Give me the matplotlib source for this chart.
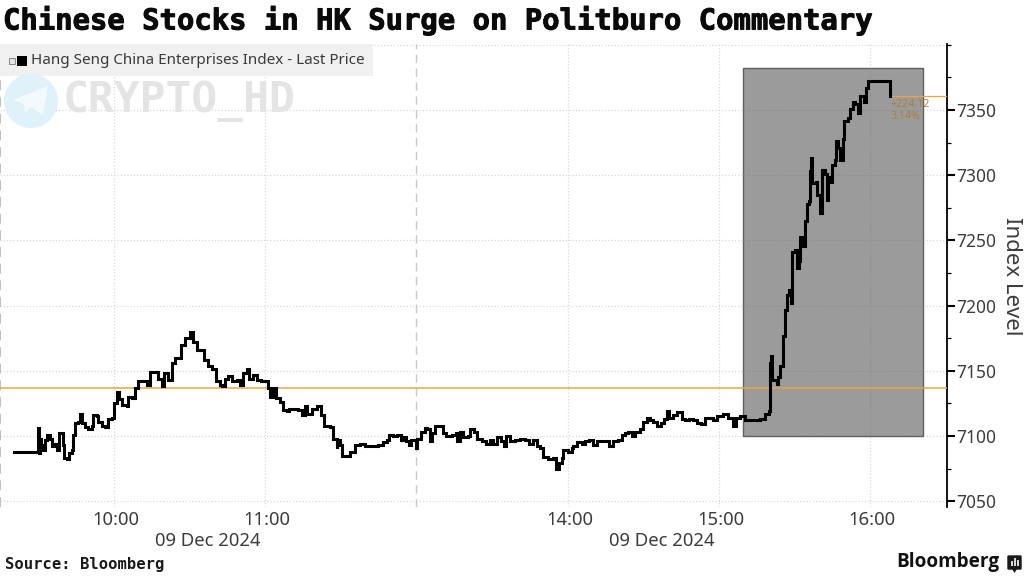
import matplotlib
matplotlib.use("Agg")
import matplotlib.pyplot as plt
import matplotlib.patches as patches
import matplotlib.patheffects as pe
from matplotlib.transforms import ScaledTranslation

# minutes after 09:00, lunch break (12:00-13:00) taken out of the clock
minutes = [
    20.5, 29.3, 29.7, 30.1, 30.5, 31.2, 32.0, 32.6, 33.5, 34.6, 35.3, 36.6, 37.2, 38.3, 39.2, 39.6,
    40.3, 41.2, 42.2, 43.2, 43.6, 44.5, 45.9, 46.5, 47.2, 48.5, 49.8, 51.1, 51.8, 53.1, 53.8, 55.1,
    56.4, 57.8, 59.1, 60.0, 61.1, 62.1, 63.1, 65.0, 65.7, 67.0, 68.3, 69.7, 71.0, 73.0, 74.3, 75.9,
    77.6, 79.0, 79.9, 81.6, 82.9, 84.2, 85.5, 86.6, 88.2, 90.2,
    91.5, 93.1, 94.8, 95.7, 97.4, 98.8, 100.5, 102.1, 103.0, 104.1, 105.4, 106.7, 108.7, 110.0,
    111.3, 112.6, 113.7, 115.0, 116.6, 118.2, 119.9, 121.3, 121.9, 123.2, 124.3, 125.9, 127.2, 128.5,
    129.5, 131.2, 133.2, 134.5, 135.8, 136.7, 138.5, 140.4, 142.0, 143.5, 145.7, 147.0, 148.4, 148.6,
    149.7, 150.4, 152.3, 153.7, 155.6, 157.6, 159.6, 162.3, 164.9,
    165.6, 166.9, 168.2, 169.3, 170.9, 172.2, 173.8, 175.1, 175.9, 177.1, 177.7, 178.8, 179.9, 180.4,
    181.7, 183.4, 184.3, 185.4, 186.1, 187.4, 189.1, 190.4, 191.8, 194.0, 195.7, 196.3, 197.3, 198.6,
    200.6, 201.3, 202.9, 204.2, 205.9, 207.6, 209.2, 210.5, 211.9, 213.5, 214.8, 215.6, 217.2, 219.1,
    221.1, 223.1, 224.8, 226.4, 227.7, 229.1, 230.4, 232.4, 234.4, 235.4, 236.6, 237.7, 238.3, 240.3, 241.6,
    242.0, 243.9, 245.6, 246.9, 248.6, 250.2, 251.8, 253.5, 255.2, 256.6, 258.2, 260.1, 261.5, 262.8,
    264.1, 265.4, 266.8, 268.7, 269.8, 271.4, 272.7, 274.0, 275.4, 277.0, 278.3, 279.3, 280.2, 282.0,
    283.6, 285.3, 286.6, 288.3, 289.9, 291.2, 292.8, 294.5, 296.3, 297.6, 299.2, 301.8, 303.8, 305.5,
    306.7, 308.4, 310.4, 312.4, 314.4, 316.4,
    318.4, 320.1, 320.3, 320.7, 321.3, 322.3, 323.0, 323.6, 324.3, 325.2, 325.4, 326.3, 326.3, 327.0,
    328.0, 328.5, 329.2, 329.2, 330.3, 330.9, 331.8, 332.2, 333.2, 334.2, 334.2,
    334.9, 336.0, 336.2, 336.6, 337.1, 338.6, 339.1, 340.2, 340.2, 341.1, 342.0, 343.1, 343.5, 344.4,
    344.8, 346.1, 346.4, 347.4, 348.1, 349.2, 349.8, 351.4, 352.1, 353.1, 354.1, 355.1, 356.0, 357.6,
    358.4, 359.3, 368.0, 368.0,
]
levels = [
    7088, 7088, 7106, 7087, 7098, 7093, 7089, 7097, 7101, 7098, 7092, 7094, 7089, 7102, 7102, 7093,
    7083, 7082, 7087, 7089, 7101, 7110, 7111, 7117, 7110, 7107, 7105, 7108, 7116, 7115, 7111, 7108,
    7107, 7113, 7114, 7125, 7134, 7128, 7124, 7123, 7130, 7129, 7137, 7142, 7142, 7139, 7149, 7149,
    7144, 7138, 7148, 7143, 7156, 7160, 7160, 7170, 7175, 7180,
    7172, 7166, 7166, 7158, 7154, 7151, 7142, 7139, 7138, 7144, 7146, 7142, 7143, 7139,
    7148, 7151, 7144, 7147, 7143, 7142, 7142, 7137, 7130, 7137, 7129, 7126, 7120, 7119,
    7121, 7121, 7120, 7116, 7123, 7117, 7121, 7123, 7116, 7108, 7107, 7098, 7091, 7097,
    7093, 7085, 7085, 7088, 7093, 7094, 7092, 7092, 7093,
    7093, 7095, 7097, 7101, 7100, 7101, 7097, 7099, 7096, 7093, 7097, 7097, 7091, 7098,
    7103, 7106, 7105, 7096, 7102, 7108, 7108, 7102, 7100, 7101, 7102, 7096, 7103, 7099,
    7100, 7105, 7103, 7098, 7096, 7094, 7097, 7094, 7099, 7096, 7092, 7100, 7096, 7097,
    7098, 7097, 7094, 7097, 7092, 7091, 7084, 7082, 7083, 7075, 7079, 7083, 7089, 7088, 7091,
    7092, 7095, 7094, 7096, 7097, 7093, 7096, 7096, 7096, 7092, 7096, 7097, 7101, 7102,
    7103, 7100, 7103, 7105, 7111, 7114, 7112, 7111, 7108, 7110, 7113, 7119, 7114, 7116,
    7118, 7113, 7112, 7113, 7112, 7110, 7109, 7114, 7114, 7112, 7115, 7117, 7114, 7108,
    7114, 7115, 7112, 7112, 7112, 7113,
    7117, 7119, 7156, 7161, 7143, 7143, 7140, 7145, 7154, 7154, 7177, 7179, 7197, 7208,
    7212, 7202, 7202, 7241, 7243, 7229, 7234, 7253, 7246, 7248, 7265,
    7278, 7280, 7303, 7313, 7294, 7295, 7285, 7284, 7271, 7304, 7301, 7281, 7299, 7295,
    7308, 7312, 7326, 7321, 7312, 7328, 7342, 7344, 7351, 7356, 7355, 7348, 7361, 7356,
    7367, 7372, 7372, 7361,
]

prev_close = 7136.7
last_close = 7360.8
change_labels = ["+224.12", "3.14%"]
tick_minutes = [60, 120, 240, 300, 360]
tick_labels = ["10:00", "11:00", "14:00", "15:00", "16:00"]
break_minute = 180
major_levels = [7050, 7100, 7150, 7200, 7250, 7300, 7350]
minor_levels = [7075, 7125, 7175, 7225, 7275, 7325, 7375, 7400]

GRID = "#d8d8d8"
ORANGE = "#e9a63f"
TEXT = "#3c3c3c"
plt.rcParams["font.family"] = "Noto Sans"

fig = plt.figure(figsize=(10.24, 5.76), dpi=100, facecolor="white")
ax = fig.add_axes([0, 1 - 507 / 576, 947 / 1024, 463 / 576])
ax.set_xlim(14.76, 390.6)
ax.set_ylim(7045.5, 7400.7)

# grid
for m in tick_minutes:
    ax.axvline(m, color=GRID, lw=0.9, ls=(0, (1, 1.6)), zorder=1)
for v in major_levels + [7400]:
    ax.axhline(v, color=GRID, lw=0.9, ls=(0, (1, 1.6)), zorder=1)
ax.axvline(break_minute, color="#c8c8c8", lw=1, ls=(0, (6, 4)), zorder=1)
ax.axvline(14.9, color="#b4b4b4", lw=1.2, ls=(0, (6, 4)), zorder=1)

# highlighted box
box = patches.Rectangle((309.6, 7100), 71.4, 282, facecolor="#9b9b9b", edgecolor="#5f5f5f", lw=1, zorder=2)
ax.add_patch(box)
ax.axvline(360, ymin=0.16, ymax=0.95, color="#8c8c8c", lw=0.8, ls=(0, (1, 1.6)), zorder=2.1)
for v in [7150, 7200, 7250, 7300, 7350]:
    ax.plot([309.6, 381], [v, v], color="#8c8c8c", lw=0.8, ls=(0, (1, 1.6)), zorder=2.1)

# reference lines
ax.axhline(prev_close, color=ORANGE, lw=1.1, zorder=3)
ax.plot([368, 390.6], [last_close, last_close], color=ORANGE, lw=0.9, zorder=3)

ax.plot(minutes, levels, color="black", lw=2.2, drawstyle="steps-post", solid_joinstyle="miter", zorder=4)

ax.text(368.3, 7354.6, change_labels[0], color="#a9803c", fontsize=7.6, va="center", zorder=5)
ax.text(368.3, 7344.7, change_labels[1], color="#a9803c", fontsize=7.6, va="center", zorder=5)

for side in ["top", "left", "bottom"]:
    ax.spines[side].set_visible(False)
ax.spines["right"].set_linewidth(1.3)
ax.yaxis.tick_right()
ax.set_yticks(major_levels)
ax.set_yticks(minor_levels, minor=True)
ax.tick_params(axis="y", which="major", length=6, width=1.5, labelsize=12.5, labelcolor=TEXT, pad=1)
ax.tick_params(axis="y", which="minor", length=3, width=0.9)
ax.set_xticks(tick_minutes)
ax.set_xticklabels(tick_labels)
ax.tick_params(axis="x", length=0, labelsize=13.3, labelcolor=TEXT, pad=3)
# tick labels sit a touch right of their gridlines in the original
shift = ScaledTranslation(2 / 100, 0, fig.dpi_scale_trans)
for label in ax.get_xticklabels():
    label.set_transform(label.get_transform() + shift)

# everything placed in picture pixels
deco = fig.add_axes([0, 0, 1, 1], zorder=10)
deco.set_xlim(0, 1024)
deco.set_ylim(576, 0)
deco.axis("off")
deco.patch.set_alpha(0)

deco.text(3, 21, "Chinese Stocks in HK Surge on Politburo Commentary", family="DejaVu Sans Mono",
          fontweight="bold", fontsize=20.8, va="center", color="#0a0a0a",
          path_effects=[pe.withStroke(linewidth=0.7, foreground="#0a0a0a")])

deco.add_patch(patches.Rectangle((0, 44), 373, 32, facecolor="#f0f0f0", edgecolor="none"))
deco.add_patch(patches.Rectangle((9, 57.5), 6, 6, facecolor="#e4e4e4", edgecolor="#888888", lw=0.7))
deco.add_patch(patches.Rectangle((17, 55.5), 10, 10, facecolor="black", edgecolor="none"))
deco.text(31, 60.5, "Hang Seng China Enterprises Index - Last Price", fontsize=10.95, va="center", color="#3a3a3a")

# watermark
deco.add_patch(patches.Circle((31, 101), 27, facecolor="#dff1f9", edgecolor="none"))
deco.add_patch(patches.Polygon([[13, 100], [48, 86], [43, 115], [31, 107], [25, 113], [24, 104]],
                               facecolor="#f3fafd", edgecolor="none"))
deco.text(63, 101, "CRYPTO_HD", family="DejaVu Sans Mono", fontweight="bold", fontsize=31,
          va="center", color="#e4e4e4")

deco.text(208, 541, "09 Dec 2024", fontsize=13.3, ha="center", va="center", color=TEXT)
deco.text(662, 541, "09 Dec 2024", fontsize=13.3, ha="center", va="center", color=TEXT)
deco.text(1012, 276, "Index Level", fontsize=16, rotation=270, ha="center", va="center", color=TEXT)
deco.text(5, 564, "Source: Bloomberg", family="DejaVu Sans Mono", fontweight="bold", fontsize=11.2,
          va="center", color="#1a1a1a")
deco.text(896, 562, "Bloomberg", family="Open Sans", fontweight="bold", fontsize=13.6, va="center", color="#111111")

# logo mark
deco.add_patch(patches.FancyBboxPatch((1008.5, 556.5), 12, 12, boxstyle="round,pad=1.2", facecolor="#1a1a1a", edgecolor="none"))
deco.add_patch(patches.Polygon([[1012, 569], [1017, 569], [1014.5, 573]], facecolor="#1a1a1a", edgecolor="none"))
for bx, bh in zip([1010.5, 1013.5, 1016.5], [5, 8, 6]):
    deco.add_patch(patches.Rectangle((bx, 566 - bh), 2, bh, facecolor="#d8d8d8", edgecolor="none"))

fig.savefig("out.png", dpi=100)
